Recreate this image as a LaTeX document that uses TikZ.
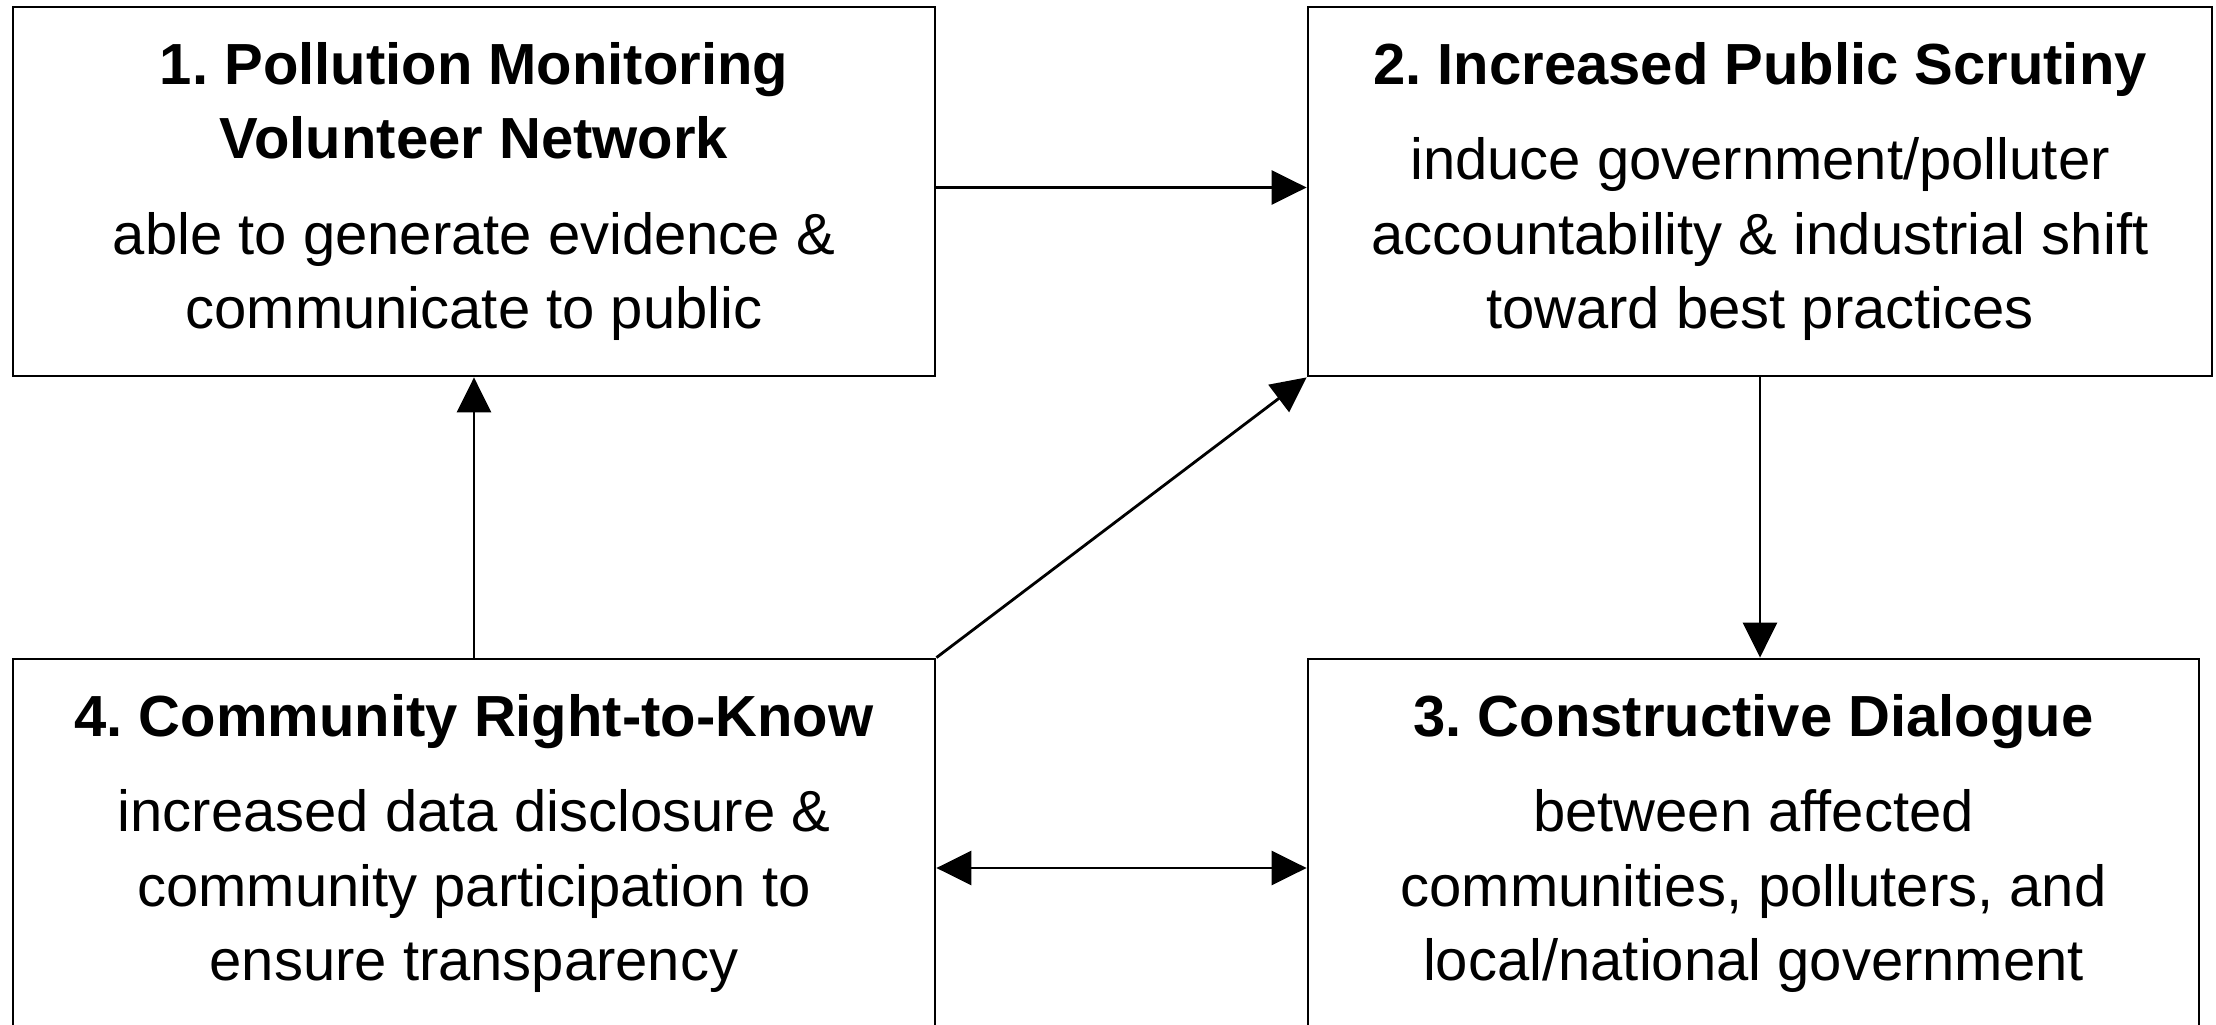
\documentclass[tikz,border=0pt]{standalone}
\usepackage{fontspec}
\setmainfont{Liberation Sans}
\usetikzlibrary{arrows.meta}
\frenchspacing

\begin{document}
\begin{tikzpicture}[
  font=\fontsize{16.5}{21.2}\selectfont,
  stagebox/.style={draw=black, line width=0.8pt, align=center, inner sep=0pt,
              minimum height=3.69cm, minimum width=9.22cm},
  ar/.style={-{Triangle[length=3.5mm,width=3.4mm]}, draw=black, line width=0.8pt},
  dar/.style={{Triangle[length=3.5mm,width=3.4mm]}-{Triangle[length=3.5mm,width=3.4mm]}, draw=black, line width=0.8pt},
]
\useasboundingbox (0,0) rectangle (22.16,-10.25);

\node[stagebox] (net) at (4.74,-1.915) {\textbf{1. Pollution Monitoring}\\\textbf{Volunteer Network}\\[6pt]able to generate evidence \&\\communicate to public};
\node[stagebox, minimum width=9.04cm] (scr) at (17.60,-1.915) {\textbf{2. Increased Public Scrutiny}\\[6pt]induce government/polluter\\accountability \& industrial shift\\toward best practices};
\node[stagebox, minimum width=8.91cm] (dia) at (17.535,-8.435) {\textbf{3. Constructive Dialogue}\\[6pt]between affected\\communities, polluters, and\\local/national government};
\node[stagebox] (rtk) at (4.74,-8.435) {\textbf{4. Community Right-to-Know}\\[6pt]increased data disclosure \&\\community participation to\\ensure transparency};

\draw[ar] ([yshift=0.04cm]net.east) -- ([yshift=0.04cm]scr.west);
\draw[ar] (rtk.north) -- (net.south);
\draw[ar] (rtk.north east) -- (scr.south west);
\draw[ar] (scr.south) -- (scr.south |- dia.north);
\draw[dar] ([yshift=-0.245cm]rtk.east) -- ([yshift=-0.245cm]dia.west);

\end{tikzpicture}
\end{document}
